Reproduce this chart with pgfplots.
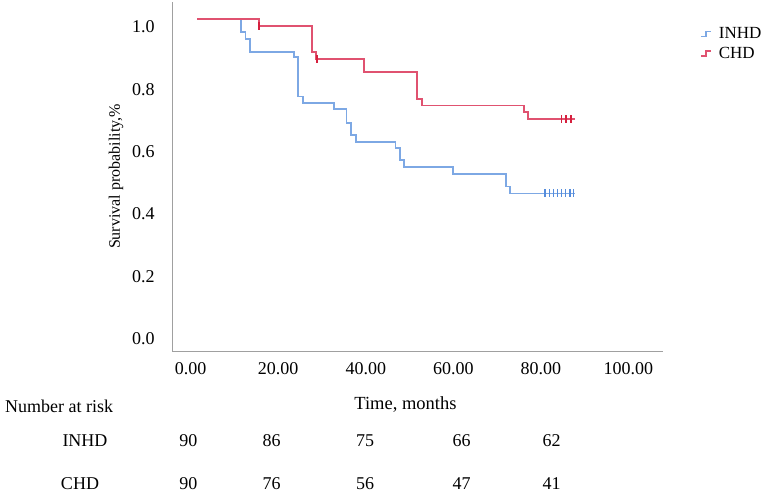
\documentclass[border=0pt]{standalone}
\usepackage{fontspec}
\setmainfont{Liberation Serif}
\usepackage{pgfplots}
\pgfplotsset{compat=1.18}
\definecolor{blueline}{RGB}{125,168,228}
\definecolor{bluemark}{RGB}{85,140,220}
\definecolor{redline}{RGB}{224,82,112}
\definecolor{redmark}{RGB}{214,32,62}
\definecolor{axisgray}{RGB}{160,160,160}
\newcommand\fs{\fontsize{18}{21}\selectfont}
\begin{document}
\begin{tikzpicture}[x=1pt,y=1pt]
\useasboundingbox (0,0) rectangle (765,497);
\begin{axis}[
  at={(172.2pt,145.8pt)}, anchor=south west,
  scale only axis, width=491.1pt, height=349.2pt,
  xmin=-5.71, xmax=106.5, ymin=-0.0655, ymax=1.0555,
  axis x line=bottom, axis y line=left,
  axis line style={-, draw=axisgray, line width=1.2pt},
  xtick={0,20,40,60,80,100}, ytick={0,0.2,0.4,0.6,0.8,1.0},
  major tick length=0pt,
  /pgf/number format/assume math mode=true,
  xticklabel style={anchor=center, xshift=-6.5pt, yshift=-17.1pt, font=\fs,
    /pgf/number format/fixed, /pgf/number format/fixed zerofill, /pgf/number format/precision=2},
  yticklabel style={anchor=center, xshift=-28.9pt, yshift=-7.7pt, font=\fs,
    /pgf/number format/fixed, /pgf/number format/fixed zerofill, /pgf/number format/precision=1},
  xlabel={Time, months},
  xlabel style={at={(axis description cs:0.475,-0.154)}, anchor=center, font=\fontsize{18.5}{21}\selectfont},
  ylabel={Survival probability,\%},
  ylabel style={at={(axis description cs:-0.1144,0.5)}, anchor=center, font=\fontsize{16}{19}\selectfont},
  legend style={draw=none, fill=none, at={(axis description cs:1.0747,0.933)}, anchor=north west,
    font=\fontsize{17}{19}\selectfont, row sep=3pt, inner sep=0pt, cells={anchor=west}},
  legend image code/.code={\draw[#1, line width=1.5pt] (0pt,-2.5pt) -- (5pt,-2.5pt) -- (5pt,2.5pt) -- (10pt,2.5pt); \path (15pt,0pt);},
  clip=false,
]
\addplot[const plot, blueline, line width=1.8pt] coordinates {
  (0,1) (10.05,0.958) (11.03,0.936) (12.0,0.896) (22.05,0.878) (22.97,0.752)
  (24.2,0.732) (31.2,0.711) (34.1,0.668) (35.2,0.629) (36.3,0.607) (45.3,0.586)
  (46.3,0.547) (47.3,0.526) (58.4,0.504) (70.5,0.463) (71.5,0.441) (86.4,0.441)};
\addlegendentry{INHD}
\addplot[const plot, redline, line width=1.8pt] coordinates {
  (0,1) (14.06,0.979) (26.26,0.896) (27.17,0.873) (38.2,0.832) (50.3,0.743)
  (51.4,0.723) (74.6,0.703) (75.5,0.679) (86.4,0.679)};
\addlegendentry{CHD}
\addplot[only marks, mark=|, mark size=4pt, bluemark, line width=1.3pt, forget plot] coordinates {
  (79.5,0.441) (80.5,0.441) (81.4,0.441) (82.3,0.441) (83.3,0.441) (84.2,0.441) (85.2,0.441) (86.0,0.441)};
\addplot[only marks, mark=|, mark size=4pt, redmark, line width=1.4pt, forget plot] coordinates {
  (14.1,0.979) (27.4,0.873) (83.3,0.679) (84.3,0.679) (85.4,0.679)};
\end{axis}
\node[anchor=base west, inner sep=0, font=\fs] at (5,84.2) {Number at risk};
\node[anchor=base, inner sep=0, font=\fs] at (85,50.9) {INHD};
\node[anchor=base, inner sep=0, font=\fs] at (80,7.9) {CHD};
\foreach \x/\v in {188.3/90, 271.7/86, 365/75, 461.7/66, 551.7/62}
  \node[anchor=base, inner sep=0, font=\fs] at (\x,50.9) {\v};
\foreach \x/\v in {188.3/90, 271.7/76, 365/56, 461.7/47, 551.7/41}
  \node[anchor=base, inner sep=0, font=\fs] at (\x,7.9) {\v};
\end{tikzpicture}
\end{document}
